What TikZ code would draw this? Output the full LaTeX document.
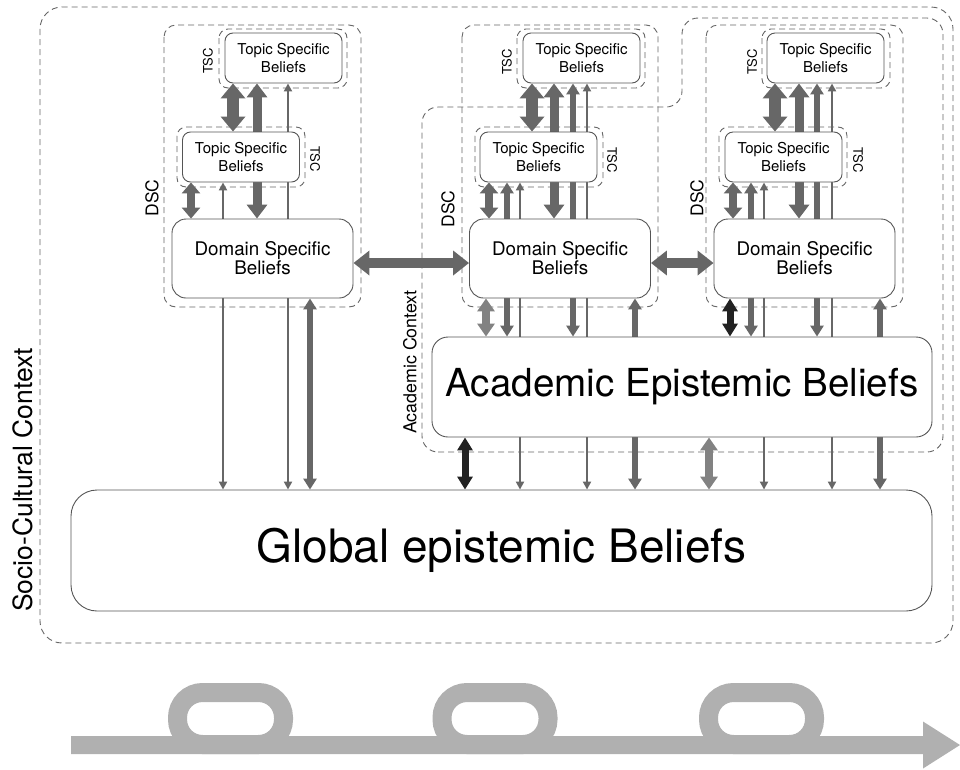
\documentclass[tikz,border=0pt]{standalone}
\usepackage{fontspec}
\setmainfont{TeX Gyre Heros}
\usetikzlibrary{arrows.meta}
\pgfdeclarelayer{bg}
\pgfsetlayers{bg,main}
\definecolor{arr}{HTML}{676767}
\definecolor{arrl}{HTML}{828282}
\definecolor{arrk}{HTML}{222222}
\definecolor{brd}{HTML}{555555}
\definecolor{dsh}{HTML}{666666}
\definecolor{loopc}{HTML}{B0B0B0}
\begin{document}
\begin{tikzpicture}[x=1pt,y=-1pt,
  box/.style={draw=brd, line width=0.9pt, fill=white, rounded corners=#1, inner sep=0pt, align=center},
  topic/.style={box=8pt, minimum width=117pt, minimum height=50pt, font=\fontsize{15}{18}\selectfont},
  dsb/.style={box=14pt, minimum width=181pt, minimum height=79pt, font=\fontsize{18.8}{17}\selectfont},
  ctx/.style={draw=dsh, line width=0.9pt, dash pattern=on 6pt off 4pt, rounded corners=#1},
  lbl/.style={inner sep=0pt, font=\fontsize{#1}{#1}\selectfont},
  da/.style n args={4}{draw=#1, line width=#2, arrows={Triangle[width=#3,length=#4]-Triangle[width=#3,length=#4]}},
  tA/.style={da={arr}{12pt}{24pt}{15pt}},
  tB/.style={da={arr}{9pt}{20pt}{14pt}},
  tC/.style={da={arr}{8pt}{18pt}{11pt}},
  mA/.style={da={arr}{5.5pt}{13pt}{11pt}},
  nA/.style={da={arr}{2.5pt}{8pt}{8pt}},
  kA/.style={da={arrk}{7pt}{15pt}{13pt}},
  lA/.style={da={arrl}{8pt}{17pt}{13pt}},
  hA/.style={da={arr}{10pt}{24pt}{16pt}},
]
\useasboundingbox (0,0) rectangle (960,769);

% nodes
\node[topic] (topLt) at (283.5,58) {Topic Specific\\Beliefs};
\node[topic] (topLl) at (241,157) {Topic Specific\\Beliefs};
\node[dsb] (dsbL) at (262.5,258.5) {Domain Specific\\Beliefs};
\node[topic] (topMt) at (581.5,58) {Topic Specific\\Beliefs};
\node[topic] (topMl) at (538.5,157) {Topic Specific\\Beliefs};
\node[dsb] (dsbM) at (560,258.5) {Domain Specific\\Beliefs};
\node[topic] (topRt) at (825.5,58) {Topic Specific\\Beliefs};
\node[topic] (topRl) at (783.5,157) {Topic Specific\\Beliefs};
\node[dsb] (dsbR) at (804.5,258.5) {Domain Specific\\Beliefs};
\node[box=16pt, minimum width=500pt, minimum height=100pt, font=\fontsize{38.6}{40}\selectfont] (aeb) at (682,387) {Academic Epistemic Beliefs};
\node[box=26pt, minimum width=861pt, minimum height=121pt, font=\fontsize{46}{48}\selectfont] (geb) at (501.5,550.5) {Global epistemic Beliefs};

% labels
\node[lbl=26.5, rotate=90] (lsc) at (23,480) {Socio-Cultural Context};
\node[lbl=17.8, rotate=90] (lac) at (410,362) {Academic Context};
\node[lbl=17.5, rotate=90] (ldL) at (152,198) {DSC};
\node[lbl=17.5, rotate=90] (ldM) at (448,209) {DSC};
\node[lbl=17.5, rotate=90] (ldR) at (697,198) {DSC};
\node[lbl=13, rotate=90] (ltLt) at (208,61) {TSC};
\node[lbl=13, rotate=90] (ltMt) at (507,62) {TSC};
\node[lbl=13, rotate=90] (ltRt) at (752,62) {TSC};
\node[lbl=13, rotate=-90] (ltLl) at (315,159) {TSC};
\node[lbl=13, rotate=-90] (ltMl) at (612,160) {TSC};
\node[lbl=13, rotate=-90] (ltRl) at (858,160) {TSC};

\begin{pgfonlayer}{bg}
% context borders
\draw[ctx=22pt] (40,7) rectangle (953,643);
\draw[ctx=16pt] (422,452) -- (943,452) -- (943,18) -- (682,18) -- (682,107) -- (422,107) -- cycle;
\draw[ctx=12pt] (164,25) rectangle (361,307);
\draw[ctx=12pt] (462,25) rectangle (658,307);
\draw[ctx=12pt] (706,25) rectangle (903,307);
\draw[ctx=9pt] (219,29) rectangle (347,88);
\draw[ctx=9pt] (177,127) rectangle (305,187);
\draw[ctx=9pt] (517,29) rectangle (645,88);
\draw[ctx=9pt] (475,127) rectangle (603,187);
\draw[ctx=9pt] (762,29) rectangle (890,88);
\draw[ctx=9pt] (719,127) rectangle (847,187);

% left column
\draw[tA] (233,0 |- topLt.south) -- (233,0 |- topLl.north);
\draw[tB] (257,0 |- dsbL.north) -- (257,0 |- topLt.south);
\draw[nA] (288,0 |- geb.north) -- (288,0 |- topLt.south);
\draw[tC] (191,0 |- topLl.south) -- (191,0 |- dsbL.north);
\draw[nA] (223,0 |- topLl.south) -- (223,0 |- geb.north);
\draw[mA] (310,0 |- dsbL.south) -- (310,0 |- geb.north);
% middle column
\draw[tA] (532,0 |- topMt.south) -- (532,0 |- topMl.north);
\draw[tB] (554,0 |- dsbM.north) -- (554,0 |- topMt.south);
\draw[mA] (573,0 |- aeb.north) -- (573,0 |- topMt.south);
\draw[nA] (587,0 |- geb.north) -- (587,0 |- topMt.south);
\draw[tC] (489,0 |- topMl.south) -- (489,0 |- dsbM.north);
\draw[mA] (507,0 |- topMl.south) -- (507,0 |- aeb.north);
\draw[nA] (520,0 |- topMl.south) -- (520,0 |- geb.north);
\draw[lA] (486,0 |- dsbM.south) -- (486,0 |- aeb.north);
\draw[mA] (635,0 |- dsbM.south) -- (635,0 |- geb.north);
\draw[kA] (465,0 |- aeb.south) -- (465,0 |- geb.north);
% right column
\draw[tA] (775,0 |- topRt.south) -- (775,0 |- topRl.north);
\draw[tB] (799,0 |- dsbR.north) -- (799,0 |- topRt.south);
\draw[mA] (817,0 |- aeb.north) -- (817,0 |- topRt.south);
\draw[nA] (832,0 |- geb.north) -- (832,0 |- topRt.south);
\draw[tC] (733,0 |- topRl.south) -- (733,0 |- dsbR.north);
\draw[mA] (751,0 |- topRl.south) -- (751,0 |- aeb.north);
\draw[nA] (764,0 |- topRl.south) -- (764,0 |- geb.north);
\draw[kA] (730,0 |- dsbR.south) -- (730,0 |- aeb.north);
\draw[mA] (880,0 |- dsbR.south) -- (880,0 |- geb.north);
\draw[lA] (709,0 |- aeb.south) -- (709,0 |- geb.north);
% horizontal
\draw[hA] (dsbL.east |- 0,263) -- (dsbM.west |- 0,263);
\draw[hA] (dsbM.east |- 0,263) -- (dsbR.west |- 0,263);
\end{pgfonlayer}

% time arrow with loops
\fill[loopc] (71,736) -- (923,736) -- (923,721.5) -- (960,745) -- (923,768.5) -- (923,754) -- (71,754) -- cycle;
\draw[loopc, line width=19pt, rounded corners=25pt] (177.5,692.5) rectangle (283.5,744.5);
\draw[loopc, line width=19pt, rounded corners=25pt] (442,692.5) rectangle (548,744.5);
\draw[loopc, line width=19pt, rounded corners=25pt] (708.5,692.5) rectangle (814.5,744.5);
\end{tikzpicture}
\end{document}
